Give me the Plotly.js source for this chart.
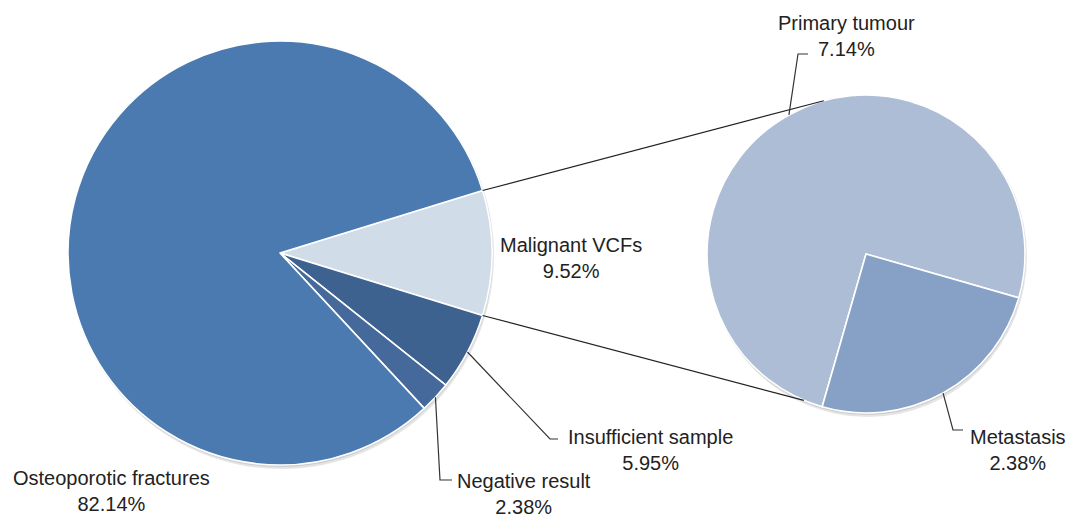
<!DOCTYPE html>
<html>
<head>
<meta charset="utf-8">
<script src="https://cdn.plot.ly/plotly-3.0.1.min.js"></script>
<style>html,body{margin:0;padding:0;background:#fff}#chart{width:1069px;height:517px}</style>
</head>
<body>
<div id="chart"></div>
<script>
// ---- data ----
const mainCategories = ['Malignant VCFs', 'Insufficient sample', 'Negative result', 'Osteoporotic fractures'];
const mainValues = [9.52, 5.95, 2.38, 82.14];
const mainColors = ['#d1dce9', '#3e6290', '#44699a', '#4a7aaf'];
const subCategories = ['Primary tumour', 'Metastasis'];
const subValues = [7.14, 2.38];
const subColors = ['#adbdd6', '#87a0c5'];

// ---- layout geometry (pixels) ----
const W = 1069, H = 517;
const L = {cx: 280, cy: 253, r: 212};
const R = {cx: 866, cy: 254, r: 159};
const subRotation = 196;

const sum = a => a.reduce((s, v) => s + v, 0);
const mainTotal = sum(mainValues), subTotal = sum(subValues);
const mainRotation = 90 - mainValues[0] / mainTotal * 180;

function pt(g, deg, rr) {
  const a = deg * Math.PI / 180, r = rr === undefined ? g.r : rr;
  return [g.cx + r * Math.sin(a), g.cy - r * Math.cos(a)];
}
function midAngle(vals, i, rot) {
  const tot = sum(vals);
  let cum = 0;
  for (let k = 0; k < i; k++) cum += vals[k];
  return rot + (cum + vals[i] / 2) / tot * 360;
}
function domainOf(g) {
  return {x: [(g.cx - g.r) / W, (g.cx + g.r) / W], y: [(H - g.cy - g.r) / H, (H - g.cy + g.r) / H]};
}

const traces = [
  {type: 'pie', labels: mainCategories, values: mainValues, sort: false, direction: 'clockwise',
   rotation: mainRotation, domain: domainOf(L), textinfo: 'none', hoverinfo: 'label+percent',
   marker: {colors: mainColors, line: {color: '#ffffff', width: 1.6}}, showlegend: false},
  {type: 'pie', labels: subCategories, values: subValues, sort: false, direction: 'clockwise',
   rotation: subRotation, domain: domainOf(R), textinfo: 'none', hoverinfo: 'label+value',
   marker: {colors: subColors, line: {color: '#ffffff', width: 1.6}}, showlegend: false}
];

const shapes = [];
// soft shadows
[L, R].forEach(g => {
  shapes.push({type: 'circle', xref: 'x', yref: 'y', layer: 'below',
    x0: g.cx - g.r + 1, x1: g.cx + g.r + 2, y0: g.cy - g.r + 1, y1: g.cy + g.r + 4,
    fillcolor: 'rgba(0,0,0,0.10)', line: {width: 0}});
  shapes.push({type: 'circle', xref: 'x', yref: 'y', layer: 'below',
    x0: g.cx - g.r, x1: g.cx + g.r + 1, y0: g.cy - g.r, y1: g.cy + g.r + 2,
    fillcolor: 'rgba(0,0,0,0.10)', line: {width: 0}});
});
// connector lines between pies
const a0 = mainRotation, a1 = mainRotation + mainValues[0] / mainTotal * 360;
const c0 = pt(L, a0), c1 = pt(L, a1);
const e0 = pt(R, 344.6), e1 = pt(R, 203);
shapes.push({type: 'line', xref: 'x', yref: 'y', x0: c0[0], y0: c0[1], x1: e0[0], y1: e0[1], line: {color: '#222', width: 1.2}});
shapes.push({type: 'line', xref: 'x', yref: 'y', x0: c1[0], y0: c1[1], x1: e1[0], y1: e1[1], line: {color: '#222', width: 1.2}});

// leader lines (start at slice middle on the rim)
function leader(g, ang, elbow, end) {
  const s = pt(g, ang);
  shapes.push({type: 'path', xref: 'x', yref: 'y',
    path: `M ${s[0]},${s[1]} L ${elbow[0]},${elbow[1]} L ${end[0]},${end[1]}`,
    line: {color: '#333', width: 1.2}});
}
leader(L, midAngle(mainValues, 1, mainRotation), [550, 439], [558, 439]);
leader(L, midAngle(mainValues, 2, mainRotation), [440, 480], [452, 480]);
leader(R, midAngle(subValues, 0, subRotation), [798, 54], [808, 54]);
leader(R, midAngle(subValues, 1, subRotation), [953, 430], [963, 430]);

// labels
const font = {family: 'Liberation Sans, Arial, sans-serif', size: 20, color: '#222'};
const labelPos = {
  'Osteoporotic fractures': [111, 491],
  'Malignant VCFs': [571, 258],
  'Insufficient sample': [650, 450],
  'Negative result': [524, 494],
  'Primary tumour': [846, 36],
  'Metastasis': [1018, 450]
};
const annotations = [];
mainCategories.concat(subCategories).forEach((c, i) => {
  const v = i < mainCategories.length ? mainValues[i] : subValues[i - mainCategories.length];
  const p = labelPos[c];
  annotations.push({xref: 'x', yref: 'y', x: p[0], y: p[1], text: c + '<br>' + v.toFixed(2) + '%',
    showarrow: false, xanchor: 'center', yanchor: 'middle', align: 'center', font: font});
});

const layout = {
  width: W, height: H, margin: {l: 0, r: 0, t: 0, b: 0},
  paper_bgcolor: '#ffffff', plot_bgcolor: 'rgba(0,0,0,0)',
  xaxis: {range: [0, W], visible: false, fixedrange: true},
  yaxis: {range: [H, 0], visible: false, fixedrange: true},
  shapes: shapes, annotations: annotations, showlegend: false
};
Plotly.newPlot('chart', traces, layout, {displayModeBar: false, staticPlot: true});
</script>
</body>
</html>
